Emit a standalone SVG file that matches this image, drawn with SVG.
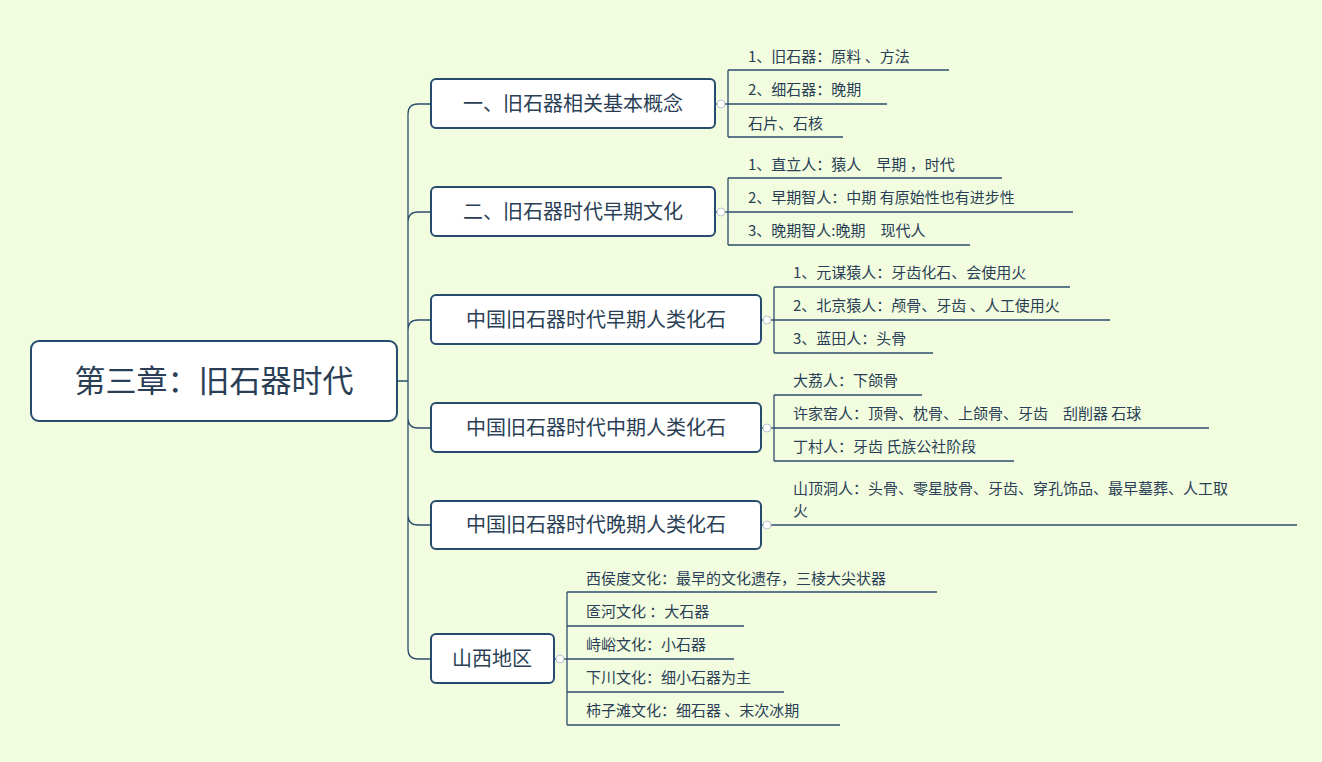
<svg xmlns="http://www.w3.org/2000/svg" width="1322" height="762" viewBox="0 0 1322 762">
<style>
text{font-family:"Noto Sans CJK SC","Noto Sans",sans-serif;fill:#2a3f55}
.b{fill:#fff;stroke:#264b6e;stroke-width:2}
.c{fill:none;stroke:#2d4d6c;stroke-width:1.3}
.l{font-size:15px}
.m{font-size:20px}
.r{font-size:31px}
.k{fill:#fff;stroke:#b9c4d0;stroke-width:1}
</style>
<rect width="1322" height="762" fill="#f2fde0"/>
<g id="connectors">
<path class="c" d="M397 381H408M408 381V114Q408 104 418 104H431M408 381V222Q408 212 418 212H431M408 381V330Q408 320 418 320H431M408 381V418Q408 428 418 428H431M408 381V515Q408 525 418 525H431M408 381V649Q408 659 418 659H431"/>
<path class="c" d="M715 104H728M728 70V137M728 70H949M728 104H887M728 137H843"/>
<path class="c" d="M715 212H728M728 178V245M728 178H1002M728 212H1073M728 245H970"/>
<path class="c" d="M761 320H774M774 287V353M774 287H1070M774 320H1110M774 353H933"/>
<path class="c" d="M761 428H774M774 395V461M774 395H922M774 428H1209M774 461H1014"/>
<path class="c" d="M761 525H1297"/>
<path class="c" d="M554 659H567M567 592V725M567 592H937M567 626H744M567 659H734M567 692H784M567 725H840"/>
<circle class="k" cx="721" cy="104" r="4"/><circle class="k" cx="721" cy="212" r="4"/>
<circle class="k" cx="767" cy="320" r="4"/><circle class="k" cx="767" cy="428" r="4"/>
<circle class="k" cx="767" cy="525" r="4"/><circle class="k" cx="560" cy="659" r="4"/>
</g>
<g id="root"><rect class="b" x="31" y="341" width="366" height="80" rx="8"/><text class="r" x="214" y="392" text-anchor="middle">第三章：旧石器时代</text></g>
<g id="n1"><rect class="b" x="431" y="79" width="284" height="49" rx="5"/><text class="m" x="573" y="111" text-anchor="middle">一、旧石器相关基本概念</text></g>
<g id="n2"><rect class="b" x="431" y="187" width="284" height="49" rx="5"/><text class="m" x="573" y="219" text-anchor="middle">二、旧石器时代早期文化</text></g>
<g id="n3"><rect class="b" x="431" y="295" width="330" height="49" rx="5"/><text class="m" x="596" y="327" text-anchor="middle">中国旧石器时代早期人类化石</text></g>
<g id="n4"><rect class="b" x="431" y="403" width="330" height="49" rx="5"/><text class="m" x="596" y="435" text-anchor="middle">中国旧石器时代中期人类化石</text></g>
<g id="n5"><rect class="b" x="431" y="501" width="330" height="48" rx="5"/><text class="m" x="596" y="532" text-anchor="middle">中国旧石器时代晚期人类化石</text></g>
<g id="n6"><rect class="b" x="431" y="634" width="123" height="49" rx="5"/><text class="m" x="492" y="666" text-anchor="middle">山西地区</text></g>
<g id="leaves" class="l">
<text class="l" x="748" y="62">1、旧石器：原料 、方法</text>
<text class="l" x="748" y="95">2、细石器：晚期</text>
<text class="l" x="748" y="129">石片、石核</text>
<text class="l" x="748" y="170">1、直立人：猿人　早期 ，时代</text>
<text class="l" x="748" y="203">2、早期智人：中期  有原始性也有进步性</text>
<text class="l" x="748" y="236">3、晚期智人:晚期　现代人</text>
<text class="l" x="793" y="278">1、元谋猿人：牙齿化石、会使用火</text>
<text class="l" x="793" y="311">2、北京猿人：颅骨、牙齿 、人工使用火</text>
<text class="l" x="793" y="344">3、蓝田人：头骨</text>
<text class="l" x="793" y="386">大荔人：下颌骨</text>
<text class="l" x="793" y="419">许家窑人：顶骨、枕骨、上颌骨、牙齿　刮削器  石球</text>
<text class="l" x="793" y="452">丁村人：牙齿 氏族公社阶段</text>
<text class="l" x="793" y="494">山顶洞人：头骨、零星肢骨、牙齿、穿孔饰品、最早墓葬、人工取</text>
<text class="l" x="793" y="516">火</text>
<text class="l" x="586" y="584">西侯度文化：最早的文化遗存，三棱大尖状器</text>
<text class="l" x="586" y="617">匼河文化 ：大石器</text>
<text class="l" x="586" y="650">峙峪文化：小石器</text>
<text class="l" x="586" y="683">下川文化：细小石器为主</text>
<text class="l" x="586" y="716">柿子滩文化：细石器 、末次冰期</text>
</g>
</svg>
